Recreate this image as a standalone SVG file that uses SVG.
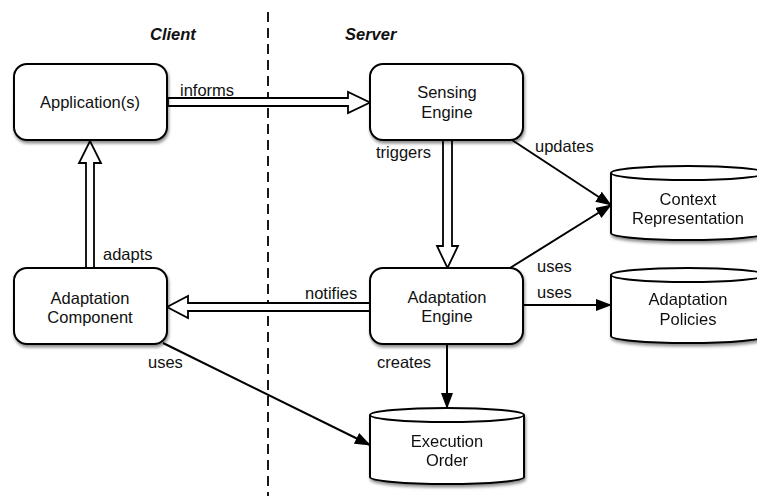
<svg xmlns="http://www.w3.org/2000/svg" width="757" height="496" viewBox="0 0 757 496">
<style>
.box{fill:#fff;stroke:#000;stroke-width:2;filter:url(#sh)}
.cyl{fill:#fff;stroke:#000;stroke-width:2}
.t{font-family:"Liberation Sans",Arial,sans-serif;font-size:16.5px;fill:#111;text-anchor:middle}
.l{font-family:"Liberation Sans",Arial,sans-serif;font-size:16.5px;fill:#111}
.h{font-family:"Liberation Sans",Arial,sans-serif;font-size:16.5px;font-weight:bold;font-style:italic;fill:#111}
.hollow{fill:#fff;stroke:#000;stroke-width:1.8;stroke-linejoin:miter}
.line{fill:none;stroke:#000;stroke-width:2;marker-end:url(#ah)}
</style>
<defs>
<filter id="sh" x="-10%" y="-10%" width="130%" height="140%">
<feDropShadow dx="1" dy="2.5" stdDeviation="1.5" flood-color="#000" flood-opacity="0.45"/>
</filter>
<marker id="ah" markerUnits="userSpaceOnUse" markerWidth="16" markerHeight="12" refX="15" refY="6" orient="auto">
<path d="M0,0 L16,6 L0,12 Z" fill="#000"/>
</marker>
</defs>
<rect width="757" height="496" fill="#fff"/>
<line x1="268" y1="12" x2="268" y2="496" stroke="#000" stroke-width="1.8" stroke-dasharray="10,6"/>
<text class="h" x="150" y="40">Client</text>
<text class="h" x="345" y="40">Server</text>

<g id="connectors">
<polygon class="hollow" points="168,98 348,98 348,92 370,102.5 348,113 348,106 168,106"/>
<text class="l" x="180" y="96">informs</text>
<polygon class="hollow" points="443,140 452,140 452,246 458,246 447.5,268 437,246 443,246"/>
<text class="l" x="376" y="158">triggers</text>
<polygon class="hollow" points="86,268 86,163 79,163 90,141 101,163 94,163 94,268"/>
<text class="l" x="103" y="260">adapts</text>
<polygon class="hollow" points="370,303 188,303 188,296 167,307 188,318 188,311 370,311"/>
<text class="l" x="305" y="299">notifies</text>
<line class="line" x1="512" y1="140" x2="611" y2="205"/>
<text class="l" x="535" y="152">updates</text>
<line class="line" x1="510" y1="268" x2="611" y2="205"/>
<text class="l" x="537" y="272">uses</text>
<line class="line" x1="523" y1="305" x2="611" y2="305"/>
<text class="l" x="537" y="298">uses</text>
<line class="line" x1="447" y1="344" x2="447" y2="408"/>
<text class="l" x="377" y="368">creates</text>
<line class="line" x1="163" y1="343" x2="370" y2="445"/>
<text class="l" x="148" y="368">uses</text>
</g>

<g id="applications">
<rect class="box" x="14" y="64" width="153" height="76" rx="13"/>
<text class="t" x="90" y="108">Application(s)</text>
</g>
<g id="sensing-engine">
<rect class="box" x="370" y="64" width="153" height="76" rx="13"/>
<text class="t" x="447" y="98">Sensing</text>
<text class="t" x="447" y="118">Engine</text>
</g>
<g id="adaptation-engine">
<rect class="box" x="370" y="268" width="153" height="76" rx="13"/>
<text class="t" x="447" y="303">Adaptation</text>
<text class="t" x="447" y="322">Engine</text>
</g>
<g id="adaptation-component">
<rect class="box" x="14" y="268" width="153" height="76" rx="13"/>
<text class="t" x="90" y="304">Adaptation</text>
<text class="t" x="90" y="323">Component</text>
</g>
<g id="context-representation" filter="url(#sh)">
<path class="cyl" d="M611,173 V233 A77,7 0 0 0 765,233 V173"/>
<ellipse class="cyl" cx="688" cy="173" rx="77" ry="7"/>
<text class="t" x="688" y="205">Context</text>
<text class="t" x="688" y="224">Representation</text>
</g>
<g id="adaptation-policies" filter="url(#sh)">
<path class="cyl" d="M611,275 V336 A77,7 0 0 0 765,336 V275"/>
<ellipse class="cyl" cx="688" cy="275" rx="77" ry="7"/>
<text class="t" x="688" y="305">Adaptation</text>
<text class="t" x="688" y="325">Policies</text>
</g>
<g id="execution-order" filter="url(#sh)">
<path class="cyl" d="M370,415 V477 A77,7 0 0 0 524,477 V415"/>
<ellipse class="cyl" cx="447" cy="415" rx="77" ry="7"/>
<text class="t" x="447" y="447">Execution</text>
<text class="t" x="447" y="466">Order</text>
</g>
</svg>
